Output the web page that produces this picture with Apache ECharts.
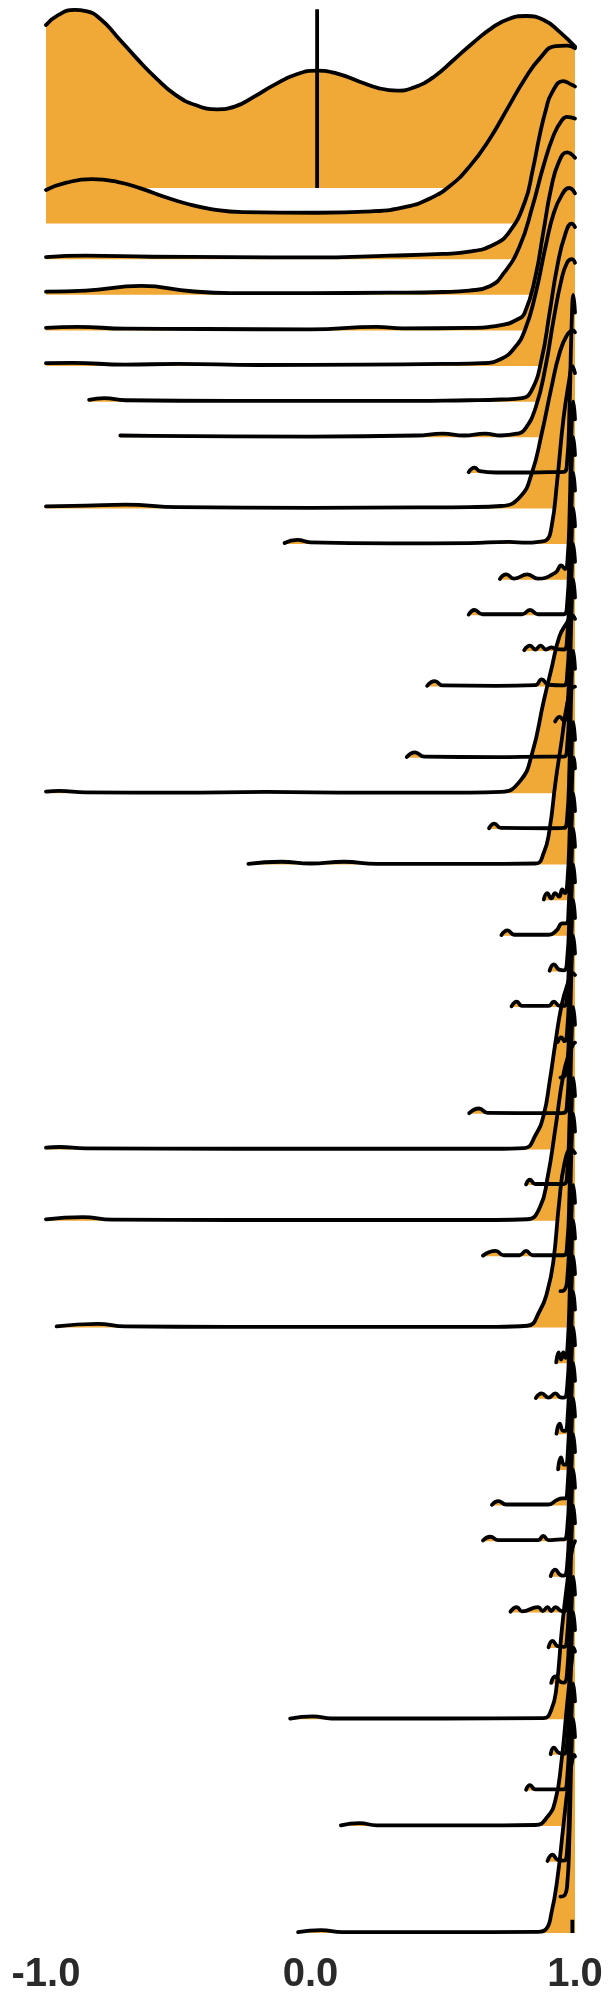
<!DOCTYPE html>
<html lang="en">
  <head>
    <meta charset="UTF-8" />
    <title>Ridgeline</title>
    <style>
      html, body { margin: 0; padding: 0; background: #fff; }
    </style>
  </head>
  <body>
    <div id="main" style="width: 613px; height: 2008px"></div>

    <script src="https://cdn.jsdelivr.net/npm/echarts@6/dist/echarts.min.js"></script>
    <script>
      // density of each row, [x, relative height], peak = 1
      const row00 = [[-1, 0.915], [-0.953, 0.972], [-0.893, 1.0], [-0.849, 0.994], [-0.79, 0.944], [-0.731, 0.85], [-0.657, 0.728], [-0.583, 0.616], [-0.509, 0.522], [-0.435, 0.466], [-0.354, 0.442], [-0.287, 0.457], [-0.213, 0.513], [-0.139, 0.578], [-0.05, 0.64], [0.024, 0.659], [0.098, 0.644], [0.186, 0.597], [0.26, 0.56], [0.327, 0.547], [0.393, 0.566], [0.467, 0.625], [0.541, 0.719], [0.615, 0.816], [0.689, 0.902], [0.749, 0.949], [0.815, 0.966], [0.882, 0.944], [0.941, 0.878], [1.0, 0.794]]
      const row01 = [[-1, 0.189], [-0.923, 0.23], [-0.827, 0.25], [-0.731, 0.235], [-0.642, 0.198], [-0.553, 0.151], [-0.464, 0.11], [-0.376, 0.082], [-0.257, 0.065], [0.024, 0.061], [0.231, 0.069], [0.364, 0.095], [0.453, 0.142], [0.527, 0.211], [0.601, 0.32], [0.675, 0.47], [0.749, 0.657], [0.808, 0.807], [0.867, 0.928], [0.926, 0.997], [0.97, 1.0], [1.0, 0.985]]
      const row02 = [[-1, 0.012], [-0.85, 0.02], [-0.6, 0.014], [-0.3, 0.012], [0.0, 0.01], [0.3, 0.02], [0.5, 0.03], [0.6, 0.042], [0.69, 0.08], [0.75, 0.15], [0.81, 0.32], [0.84, 0.5], [0.867, 0.7], [0.89, 0.84], [0.911, 0.93], [0.955, 1.0], [0.99, 0.978], [1.0, 0.97]]
      const row03 = [[-1, 0.018], [-0.85, 0.024], [-0.64, 0.05], [-0.45, 0.02], [-0.3, 0.01], [0.0, 0.01], [0.3, 0.012], [0.5, 0.016], [0.6, 0.024], [0.68, 0.05], [0.73, 0.12], [0.79, 0.27], [0.84, 0.5], [0.88, 0.72], [0.92, 0.9], [0.95, 0.98], [0.97, 1.0], [1.0, 0.99]]
      const row04 = [[-1, 0.014], [-0.88, 0.02], [-0.7, 0.01], [-0.4, 0.008], [0.0, 0.006], [0.25, 0.02], [0.35, 0.012], [0.6, 0.014], [0.72, 0.03], [0.78, 0.06], [0.81, 0.1], [0.85, 0.3], [0.88, 0.55], [0.91, 0.8], [0.94, 0.95], [0.97, 1.0], [1.0, 0.97]]
      const row05 = [[-1, 0.016], [-0.9, 0.018], [-0.7, 0.008], [-0.5, 0.012], [-0.2, 0.006], [0.2, 0.008], [0.5, 0.012], [0.65, 0.016], [0.72, 0.04], [0.77, 0.1], [0.81, 0.2], [0.85, 0.4], [0.89, 0.68], [0.92, 0.86], [0.95, 0.96], [0.978, 1.0], [1.0, 0.97]]
      const row06 = [[-0.837, 0.01], [-0.78, 0.02], [-0.7, 0.008], [-0.3, 0.004], [0.3, 0.004], [0.6, 0.008], [0.72, 0.012], [0.8, 0.02], [0.837, 0.066], [0.874, 0.24], [0.904, 0.5], [0.933, 0.76], [0.963, 0.94], [0.988, 1.0], [1.0, 0.98]]
      const row07 = [[-0.719, 0.01], [-0.6, 0.008], [0.0, 0.004], [0.4, 0.01], [0.5, 0.02], [0.58, 0.01], [0.66, 0.02], [0.72, 0.01], [0.78, 0.02], [0.808, 0.04], [0.852, 0.17], [0.889, 0.4], [0.919, 0.66], [0.948, 0.88], [0.97, 0.98], [0.988, 1.0], [1.0, 0.98]]
      const row08 = [[0.598, 0.004], [0.62, 0.03], [0.64, 0.01], [0.7, 0.002], [0.8, 0.002], [0.9, 0.004], [0.958, 0.006], [0.97, 0.06], [0.979, 0.35], [0.987, 0.82], [0.994, 1.0], [1.0, 0.9]]
      const row09 = [[-1, 0.012], [-0.85, 0.016], [-0.7, 0.022], [-0.5, 0.008], [0.0, 0.004], [0.4, 0.006], [0.6, 0.008], [0.72, 0.014], [0.793, 0.066], [0.837, 0.2], [0.874, 0.42], [0.911, 0.68], [0.941, 0.87], [0.97, 0.974], [0.993, 1.0], [1.0, 0.99]]
      const row10 = [[-0.098, 0.006], [-0.05, 0.024], [0.0, 0.01], [0.3, 0.004], [0.6, 0.006], [0.75, 0.012], [0.82, 0.008], [0.87, 0.014], [0.89, 0.02], [0.911, 0.094], [0.933, 0.36], [0.956, 0.7], [0.978, 0.92], [0.99, 1.0], [1.0, 0.96]]
      const row11 = [[0.716, 0.004], [0.74, 0.03], [0.77, 0.006], [0.82, 0.03], [0.86, 0.006], [0.926, 0.04], [0.948, 0.08], [0.962, 0.06], [0.972, 0.12], [0.98, 0.4], [0.987, 0.85], [0.994, 1.0], [1.0, 0.9]]
      const row12 = [[0.598, 0.004], [0.62, 0.03], [0.65, 0.006], [0.8, 0.006], [0.83, 0.03], [0.86, 0.006], [0.958, 0.006], [0.97, 0.06], [0.979, 0.35], [0.987, 0.82], [0.994, 1.0], [1.0, 0.9]]
      const row13 = [[0.808, 0.004], [0.83, 0.03], [0.85, 0.008], [0.87, 0.03], [0.89, 0.008], [0.91, 0.02], [0.93, 0.01], [0.958, 0.008], [0.97, 0.07], [0.979, 0.36], [0.987, 0.82], [0.994, 1.0], [1.0, 0.9]]
      const row14 = [[0.441, 0.004], [0.47, 0.03], [0.5, 0.006], [0.7, 0.004], [0.85, 0.008], [0.874, 0.04], [0.9, 0.01], [0.958, 0.006], [0.97, 0.06], [0.979, 0.35], [0.987, 0.82], [0.994, 1.0], [1.0, 0.9]]
      const row15 = [[0.925, 0.004], [0.942, 0.03], [0.958, 0.008], [0.97, 0.06], [0.979, 0.35], [0.987, 0.82], [0.994, 1.0], [1.0, 0.9]]
      const row16 = [[0.364, 0.004], [0.395, 0.03], [0.43, 0.006], [0.7, 0.004], [0.9, 0.006], [0.958, 0.006], [0.97, 0.06], [0.979, 0.35], [0.987, 0.82], [0.994, 1.0], [1.0, 0.9]]
      const row17 = [[-1, 0.01], [-0.95, 0.014], [-0.85, 0.006], [-0.5, 0.004], [-0.17, 0.008], [0.2, 0.004], [0.6, 0.004], [0.72, 0.008], [0.793, 0.07], [0.837, 0.22], [0.882, 0.52], [0.911, 0.7], [0.941, 0.88], [0.97, 0.96], [0.99, 1.0], [1.0, 0.98]]
      const row18 = [[0.675, 0.004], [0.695, 0.03], [0.72, 0.006], [0.9, 0.004], [0.958, 0.006], [0.97, 0.06], [0.979, 0.35], [0.987, 0.82], [0.994, 1.0], [1.0, 0.9]]
      const row19 = [[-0.235, 0.004], [-0.11, 0.016], [0.0, 0.006], [0.127, 0.016], [0.25, 0.004], [0.6, 0.004], [0.85, 0.006], [0.882, 0.066], [0.904, 0.2], [0.926, 0.46], [0.948, 0.68], [0.97, 0.9], [0.988, 0.99], [1.0, 1.0]]
      const row20 = [[0.882, 0.004], [0.895, 0.04], [0.91, 0.01], [0.925, 0.04], [0.94, 0.02], [0.952, 0.06], [0.962, 0.04], [0.971, 0.1], [0.98, 0.4], [0.987, 0.84], [0.994, 1.0], [1.0, 0.9]]
      const row21 = [[0.722, 0.004], [0.745, 0.03], [0.77, 0.006], [0.9, 0.006], [0.93, 0.03], [0.952, 0.07], [0.966, 0.07], [0.976, 0.16], [0.984, 0.5], [0.99, 0.92], [0.996, 1.0], [1.0, 0.94]]
      const row22 = [[0.904, 0.004], [0.92, 0.04], [0.94, 0.01], [0.958, 0.006], [0.97, 0.06], [0.979, 0.35], [0.987, 0.82], [0.994, 1.0], [1.0, 0.9]]
      const row23 = [[0.76, 0.004], [0.78, 0.03], [0.8, 0.006], [0.9, 0.006], [0.92, 0.03], [0.94, 0.008], [0.958, 0.006], [0.97, 0.06], [0.979, 0.35], [0.987, 0.82], [0.994, 1.0], [1.0, 0.9]]
      const row24 = [[0.935, 0.004], [0.948, 0.03], [0.96, 0.008], [0.97, 0.06], [0.979, 0.35], [0.987, 0.82], [0.994, 1.0], [1.0, 0.9]]
      const row25 = [[0.945, 0.004], [0.958, 0.008], [0.97, 0.06], [0.979, 0.35], [0.987, 0.82], [0.994, 1.0], [1.0, 0.9]]
      const row26 = [[0.6, 0.004], [0.637, 0.03], [0.67, 0.006], [0.9, 0.004], [0.958, 0.006], [0.97, 0.06], [0.979, 0.35], [0.987, 0.82], [0.994, 1.0], [1.0, 0.9]]
      const row27 = [[-1, 0.01], [-0.95, 0.014], [-0.85, 0.006], [-0.3, 0.004], [0.3, 0.004], [0.7, 0.004], [0.808, 0.008], [0.852, 0.084], [0.882, 0.196], [0.904, 0.38], [0.926, 0.6], [0.948, 0.8], [0.97, 0.92], [0.993, 0.99], [1.0, 0.98]]
      const row28 = [[0.815, 0.004], [0.83, 0.03], [0.85, 0.006], [0.958, 0.006], [0.97, 0.06], [0.979, 0.35], [0.987, 0.82], [0.994, 1.0], [1.0, 0.9]]
      const row29 = [[-1, 0.008], [-0.86, 0.02], [-0.75, 0.006], [-0.3, 0.004], [0.3, 0.004], [0.7, 0.004], [0.82, 0.008], [0.867, 0.074], [0.896, 0.24], [0.926, 0.52], [0.956, 0.82], [0.978, 0.94], [0.993, 0.99], [1.0, 1.0]]
      const row30 = [[0.652, 0.004], [0.7, 0.03], [0.73, 0.006], [0.79, 0.006], [0.815, 0.03], [0.84, 0.006], [0.958, 0.006], [0.97, 0.06], [0.979, 0.35], [0.987, 0.82], [0.994, 1.0], [1.0, 0.9]]
      const row31 = [[0.945, 0.004], [0.958, 0.008], [0.97, 0.06], [0.979, 0.35], [0.987, 0.82], [0.994, 1.0], [1.0, 0.9]]
      const row32 = [[-0.96, 0.006], [-0.805, 0.02], [-0.7, 0.006], [-0.3, 0.004], [0.3, 0.004], [0.7, 0.004], [0.82, 0.01], [0.867, 0.094], [0.896, 0.206], [0.918, 0.37], [0.94, 0.7], [0.96, 0.92], [0.985, 1.0], [1.0, 0.98]]
      const row33 = [[0.929, 0.004], [0.938, 0.06], [0.947, 0.02], [0.956, 0.06], [0.964, 0.03], [0.972, 0.1], [0.98, 0.4], [0.987, 0.84], [0.994, 1.0], [1.0, 0.9]]
      const row34 = [[0.852, 0.004], [0.874, 0.03], [0.9, 0.006], [0.926, 0.03], [0.945, 0.008], [0.958, 0.006], [0.97, 0.06], [0.979, 0.35], [0.987, 0.82], [0.994, 1.0], [1.0, 0.9]]
      const row35 = [[0.93, 0.004], [0.942, 0.06], [0.955, 0.02], [0.963, 0.02], [0.971, 0.07], [0.979, 0.35], [0.987, 0.82], [0.994, 1.0], [1.0, 0.9]]
      const row36 = [[0.936, 0.004], [0.947, 0.07], [0.958, 0.03], [0.965, 0.03], [0.972, 0.08], [0.98, 0.36], [0.987, 0.82], [0.994, 1.0], [1.0, 0.9]]
      const row37 = [[0.686, 0.004], [0.71, 0.025], [0.74, 0.006], [0.9, 0.006], [0.93, 0.03], [0.952, 0.04], [0.963, 0.04], [0.971, 0.09], [0.979, 0.36], [0.987, 0.82], [0.994, 1.0], [1.0, 0.9]]
      const row38 = [[0.652, 0.004], [0.68, 0.025], [0.71, 0.006], [0.86, 0.006], [0.88, 0.03], [0.9, 0.006], [0.945, 0.01], [0.958, 0.01], [0.97, 0.06], [0.979, 0.35], [0.987, 0.82], [0.994, 1.0], [1.0, 0.9]]
      const row39 = [[0.908, 0.004], [0.925, 0.04], [0.945, 0.01], [0.958, 0.006], [0.97, 0.06], [0.979, 0.35], [0.987, 0.82], [0.994, 1.0], [1.0, 0.9]]
      const row40 = [[0.756, 0.004], [0.78, 0.03], [0.8, 0.006], [0.86, 0.03], [0.878, 0.008], [0.896, 0.03], [0.91, 0.008], [0.926, 0.03], [0.945, 0.01], [0.958, 0.006], [0.97, 0.06], [0.979, 0.35], [0.987, 0.82], [0.994, 1.0], [1.0, 0.9]]
      const row41 = [[0.9, 0.004], [0.915, 0.04], [0.935, 0.01], [0.958, 0.006], [0.97, 0.06], [0.979, 0.35], [0.987, 0.82], [0.994, 1.0], [1.0, 0.9]]
      const row42 = [[0.91, 0.004], [0.925, 0.04], [0.945, 0.01], [0.958, 0.006], [0.97, 0.06], [0.979, 0.35], [0.987, 0.82], [0.994, 1.0], [1.0, 0.9]]
      const row43 = [[-0.077, 0.004], [0.009, 0.016], [0.08, 0.004], [0.5, 0.004], [0.88, 0.006], [0.91, 0.052], [0.93, 0.18], [0.95, 0.5], [0.97, 0.76], [0.99, 0.96], [1.0, 1.0]]
      const row44 = [[0.908, 0.004], [0.92, 0.04], [0.94, 0.01], [0.958, 0.006], [0.97, 0.06], [0.979, 0.35], [0.987, 0.82], [0.994, 1.0], [1.0, 0.9]]
      const row45 = [[0.815, 0.004], [0.83, 0.03], [0.85, 0.006], [0.958, 0.006], [0.97, 0.06], [0.979, 0.35], [0.987, 0.82], [0.994, 1.0], [1.0, 0.9]]
      const row46 = [[0.115, 0.004], [0.186, 0.016], [0.25, 0.004], [0.6, 0.004], [0.85, 0.006], [0.896, 0.052], [0.926, 0.146], [0.948, 0.352], [0.97, 0.68], [0.988, 0.93], [0.995, 1.0], [1.0, 0.98]]
      const row47 = [[0.896, 0.004], [0.915, 0.04], [0.935, 0.01], [0.958, 0.006], [0.97, 0.06], [0.979, 0.35], [0.987, 0.82], [0.994, 1.0], [1.0, 0.9]]
      const row48 = [[0.945, 0.004], [0.958, 0.008], [0.97, 0.06], [0.979, 0.35], [0.987, 0.82], [0.994, 1.0], [1.0, 0.9]]
      const row49 = [[-0.047, 0.004], [0.04, 0.016], [0.12, 0.004], [0.5, 0.004], [0.86, 0.006], [0.89, 0.02], [0.911, 0.112], [0.933, 0.3], [0.956, 0.6], [0.973, 0.82], [0.988, 0.956], [0.997, 1.0], [1.0, 0.99]]

      const rows = [row00, row01, row02, row03, row04, row05, row06, row07, row08, row09,
        row10, row11, row12, row13, row14, row15, row16, row17, row18, row19,
        row20, row21, row22, row23, row24, row25, row26, row27, row28, row29,
        row30, row31, row32, row33, row34, row35, row36, row37, row38, row39,
        row40, row41, row42, row43, row44, row45, row46, row47, row48, row49]

      // vertical marks: [row, x, height in row units]
      const marks = [[0, 0.025, 5.02], [49, 0.99, 0.37]]
      const xTicks = [-1, 0, 1]

      const ridge = 5 // peak height, in row spacings
      const firstBase = 188
      const gap = 35.61
      const orange = '#F0A836'

      let grids = [], xAxes = [], yAxes = [], series = []
      rows.forEach(function (r, i) {
        grids.push({ left: 46, right: 38, top: firstBase + gap * (i - 1), height: gap })
        let last = i === rows.length - 1
        xAxes.push({
          gridIndex: i, type: 'value', min: xTicks[0], max: xTicks[xTicks.length - 1], interval: 1,
          show: last,
          axisLine: { show: false }, axisTick: { show: false }, splitLine: { show: false },
          axisLabel: {
            show: last, margin: 22, fontSize: 40, fontWeight: 'bold',
            fontFamily: 'Liberation Sans, Arial, sans-serif', color: '#2a2a2a',
            formatter: v => v.toFixed(1)
          }
        })
        yAxes.push({ gridIndex: i, type: 'value', min: 0, max: 1, show: false })
        series.push({
          type: 'line', xAxisIndex: i, yAxisIndex: i,
          data: r.map(p => [p[0], p[1] * ridge]),
          smooth: 0.5, symbol: 'none', clip: false, silent: true,
          lineStyle: { color: '#000', width: 3.8, cap: 'round', join: 'round' },
          areaStyle: { color: orange, opacity: 1, origin: 'start' }
        })
        marks.filter(m => m[0] === i).forEach(function (m) {
          series.push({
            type: 'line', xAxisIndex: i, yAxisIndex: i,
            data: [[m[1], 0], [m[1], m[2]]],
            symbol: 'none', clip: false, silent: true,
            lineStyle: { color: '#000', width: 3.8 }
          })
        })
      })

      let myChart = echarts.init(document.getElementById('main'))
      myChart.setOption({
        animation: false,
        backgroundColor: '#fff',
        grid: grids,
        xAxis: xAxes,
        yAxis: yAxes,
        series: series
      })
    </script>
  </body>
</html>
